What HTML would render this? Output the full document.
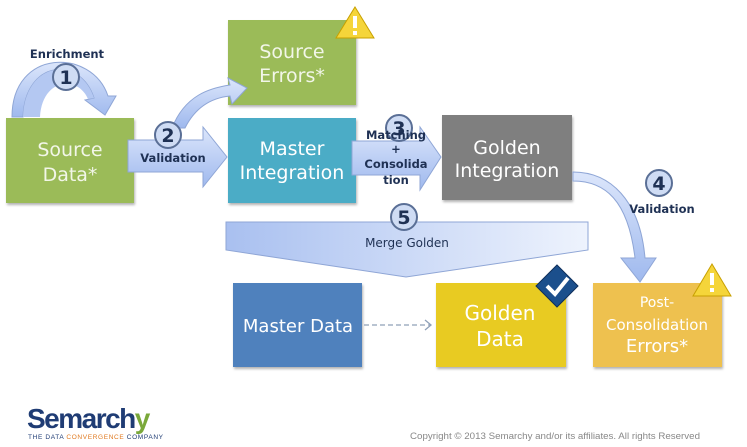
<!DOCTYPE html>
<html><head><meta charset="utf-8"><style>
body{margin:0;background:#fff}
svg{display:block;font-family:"DejaVu Sans","Liberation Sans",sans-serif}
</style></head><body>
<svg width="747" height="447" viewBox="0 0 747 447" xmlns="http://www.w3.org/2000/svg">
<defs>
<linearGradient id="ag" x1="0" y1="0" x2="0" y2="1"><stop offset="0" stop-color="#dce6fb"/><stop offset="1" stop-color="#9fb9ee"/></linearGradient>
<linearGradient id="mg" x1="0" y1="0" x2="1" y2="0"><stop offset="0" stop-color="#a9c0f0"/><stop offset="1" stop-color="#eef3fd"/></linearGradient>
<filter id="sh"><feDropShadow dx="1" dy="2" stdDeviation="1.2" flood-opacity="0.3"/></filter>
</defs>
<g filter="url(#sh)">
<rect x="6" y="118" width="128" height="85" fill="#9bbb59"/>
<rect x="228" y="20" width="128" height="85" fill="#9bbb59"/>
<rect x="228" y="118" width="128" height="85" fill="#4bacc6"/>
<rect x="442" y="115" width="130" height="85" fill="#7f7f7f"/>
<rect x="233" y="283" width="129" height="84" fill="#4f81bd"/>
<rect x="436" y="283" width="130" height="84" fill="#e8cb22"/>
<rect x="593" y="283" width="129" height="84" fill="#eec150"/>
</g>
<g fill="url(#ag)" stroke="#8fa6d6" stroke-width="1">
<path d="M23,117 C25,60 80,55 94,98 L85,100 L105,115 L116,96 L108,96 C92,48 12,48 12,117 Z" transform="translate(0,0)"/>
<path d="M40,117 C42,78 78,75 88,99 L94,98 C80,55 25,60 23,117 Z" fill="#b4c8f2" stroke="none"/>
<path d="M172,128 C185,95 210,88 230,85 L228,78 L247,88 L232,104 L230,96 C210,98 195,108 185,128 Z"/>
<path d="M128,140 L203,140 L203,127 L227,157 L203,187 L203,172 L128,172 Z"/>
<path d="M352,141 L420,141 L420,127 L441,157 L420,190 L420,175 L352,175 Z"/>
<path d="M573,181 C605,181 628,200 635,258 L621,258 L640,282 L656,258 L645,258 C640,200 610,172 573,172 Z"/>
<path d="M226,222 L588,222 L588,250 L406,277 L226,250 Z" fill="url(#mg)"/>
</g>
<g fill="#cfdcf4" stroke="#5a6f96" stroke-width="2">
<circle cx="66" cy="77" r="13"/><circle cx="168" cy="135" r="13"/><circle cx="399" cy="128" r="13"/><circle cx="659" cy="183" r="13"/><circle cx="404" cy="217" r="13"/>
</g>
<g font-weight="bold" font-size="19" fill="#1f3154" text-anchor="middle">
<text x="66" y="84">1</text><text x="168" y="142">2</text><text x="399" y="135">3</text><text x="659" y="190">4</text><text x="404" y="224">5</text>
</g>
<g font-weight="bold" font-size="11.5" fill="#1f3154" text-anchor="middle">
<text x="67" y="58">Enrichment</text>
<text x="173" y="162">Validation</text>
<text x="662" y="213">Validation</text>
<text x="396" y="139">Matching</text>
<text x="396" y="153">+</text>
<text x="396" y="168">Consolida</text>
<text x="396" y="184">tion</text>
</g>
<text x="407" y="247" font-size="12" fill="#1f3154" text-anchor="middle">Merge Golden</text>
<g fill="#f2f6e8" font-size="19" text-anchor="middle">
<text x="70" y="156">Source</text><text x="70" y="181">Data*</text>
<text x="292" y="58">Source</text><text x="292" y="82">Errors*</text>
<text x="292" y="155" fill="#fff">Master</text><text x="292" y="179" fill="#fff">Integration</text>
<text x="507" y="154" fill="#fff">Golden</text><text x="507" y="177" fill="#fff">Integration</text>
<text x="298" y="332" fill="#fff" font-size="18">Master Data</text>
<text x="500" y="320" fill="#fff" font-size="20">Golden</text><text x="500" y="346" fill="#fff" font-size="20">Data</text>
<text x="657" y="307" fill="#fff" font-size="14">Post-</text><text x="657" y="330" fill="#fff" font-size="15">Consolidation</text><text x="657" y="352" fill="#fff" font-size="18">Errors*</text>
</g>
<line x1="364" y1="325" x2="430" y2="325" stroke="#8fa0b8" stroke-width="1.3" stroke-dasharray="5,3"/>
<path d="M425,320 L431,325 L425,330" fill="none" stroke="#8fa0b8" stroke-width="1.3"/>
<g stroke="#c8a000" stroke-width="1">
<path d="M355,7 L374,38 L336,38 Z" fill="#f5d53a"/>
<path d="M712,264 L731,296 L693,296 Z" fill="#f5d53a"/>
</g>
<g fill="#fff"><rect x="353" y="16" width="4" height="12"/><rect x="353" y="31" width="4" height="4"/><rect x="710" y="273" width="4" height="12"/><rect x="710" y="288" width="4" height="4"/></g>
<path d="M557,265 L578,286 L557,307 L536,286 Z" fill="#1b4f8c" stroke="#0e2f5a"/>
<path d="M547,286 L555,294 L568,278" fill="none" stroke="#fff" stroke-width="4"/>
<text x="27" y="428" font-size="28" font-weight="bold" fill="#1f3c74" letter-spacing="-1.5" font-family="Liberation Sans,sans-serif">Semarch<tspan fill="#7aa83a">y</tspan></text>
<text x="28" y="439" font-size="6.5" fill="#1f3c74" font-family="Liberation Sans,sans-serif" textLength="135">THE DATA <tspan fill="#e07a20">CONVERGENCE</tspan> COMPANY</text>
<text x="410" y="439" font-size="9" fill="#888" font-family="Liberation Sans,sans-serif" textLength="290" lengthAdjust="spacingAndGlyphs">Copyright © 2013 Semarchy and/or its affiliates. All rights Reserved</text>
</svg>
</body></html>
